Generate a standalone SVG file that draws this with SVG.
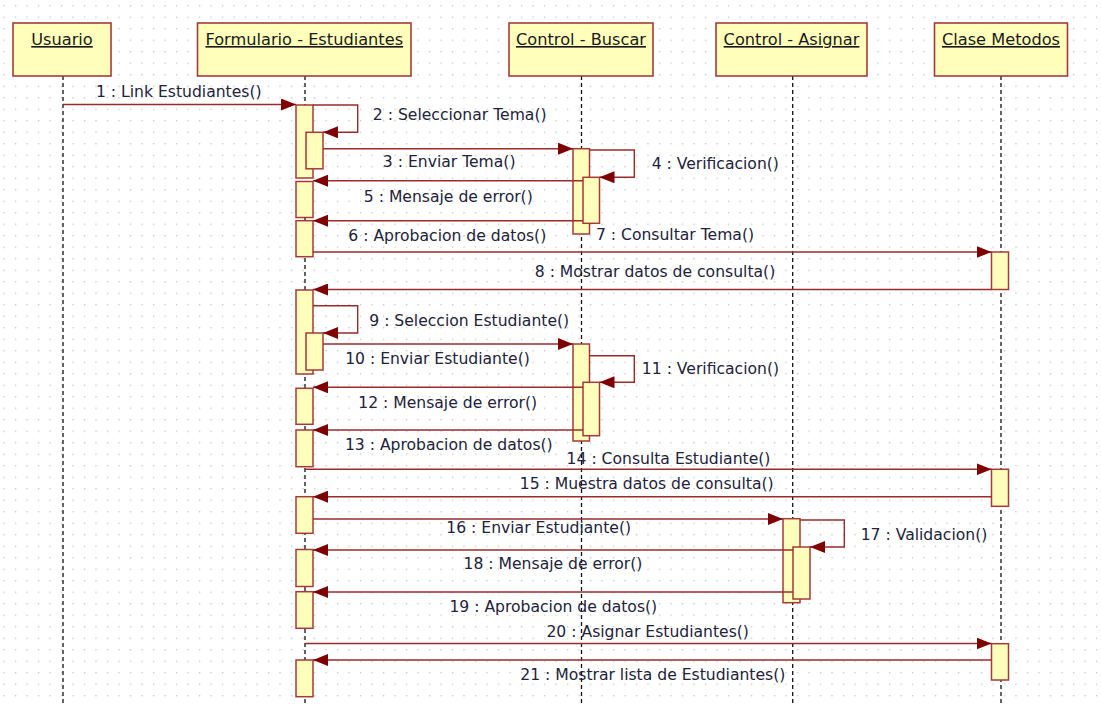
<svg xmlns="http://www.w3.org/2000/svg" width="1101" height="704" viewBox="0 0 1101 704">
  <defs>
    <pattern id="grid" x="3.4" y="5.1" width="11.5" height="11.5" patternUnits="userSpaceOnUse">
      <rect x="0" y="0" width="1.3" height="1.3" fill="#c4c4c4"/>
    </pattern>
    <marker id="arrow" viewBox="0 0 15 12" refX="15" refY="6" markerWidth="15" markerHeight="12" markerUnits="userSpaceOnUse" orient="auto">
      <path d="M0,0 L15,6 L0,12 Z" fill="#7f0000"/>
    </marker>
    <style>
      .head { fill: #ffffbb; stroke: #a53a3a; stroke-width: 1.6; }
      .act { fill: #ffffbb; stroke: #a53a3a; stroke-width: 1.5; }
      .life { stroke: #111; stroke-width: 1.3; stroke-dasharray: 4 3; fill: none; }
      .title { font-family: "DejaVu Sans", sans-serif; font-size: 16.2px; fill: #1a1a1a; text-anchor: middle; text-decoration: underline; }
      .msg { stroke: #9a2b2b; stroke-width: 1.4; fill: none; marker-end: url(#arrow); }
      .lbl { font-family: "DejaVu Sans", sans-serif; font-size: 15.6px; fill: #22223a; text-anchor: middle; }
    </style>
  </defs>

  <rect width="1101" height="704" fill="#ffffff"/>
  <rect width="1101" height="704" fill="url(#grid)"/>

  <!-- Usuario -->
  <g id="usuario">
    <line class="life" x1="63" y1="76" x2="63" y2="704"/>
    <rect class="head" x="13" y="23" width="98" height="53"/>
    <text class="title" x="62" y="45">Usuario</text>
  </g>

  <!-- Formulario - Estudiantes -->
  <g id="formulario">
    <line class="life" x1="305" y1="76" x2="305" y2="704"/>
    <rect class="head" x="197.5" y="23" width="213.5" height="53"/>
    <text class="title" x="304.3" y="45">Formulario - Estudiantes</text>
    <rect class="act" x="296" y="105" width="17" height="73"/>
    <rect class="act" x="306" y="132.3" width="17" height="36.5"/>
    <rect class="act" x="296" y="181.5" width="17" height="36"/>
    <rect class="act" x="296" y="220.7" width="17" height="36"/>
    <rect class="act" x="296" y="290" width="17" height="84"/>
    <rect class="act" x="306" y="333" width="17" height="37"/>
    <rect class="act" x="296" y="388.3" width="17" height="36"/>
    <rect class="act" x="296" y="430" width="17" height="36.7"/>
    <rect class="act" x="296" y="496.7" width="17" height="36.6"/>
    <rect class="act" x="296" y="549.5" width="17" height="37"/>
    <rect class="act" x="296" y="591.7" width="17" height="36.6"/>
    <rect class="act" x="296" y="660" width="17" height="36.7"/>
  </g>

  <!-- Control - Buscar -->
  <g id="control-buscar">
    <line class="life" x1="581.5" y1="76" x2="581.5" y2="704"/>
    <rect class="head" x="509" y="23" width="144" height="53"/>
    <text class="title" x="581" y="45">Control - Buscar</text>
    <rect class="act" x="573" y="148.7" width="16.5" height="85.3"/>
    <rect class="act" x="583" y="177.3" width="16.5" height="46"/>
    <rect class="act" x="573" y="344" width="16.5" height="97"/>
    <rect class="act" x="583" y="382.3" width="16.5" height="53.4"/>
  </g>

  <!-- Control - Asignar -->
  <g id="control-asignar">
    <line class="life" x1="792.7" y1="76" x2="792.7" y2="704"/>
    <rect class="head" x="716" y="23" width="151" height="53"/>
    <text class="title" x="791.5" y="45">Control - Asignar</text>
    <rect class="act" x="783" y="518.7" width="17" height="84"/>
    <rect class="act" x="793" y="547" width="17" height="52"/>
  </g>

  <!-- Clase Metodos -->
  <g id="clase-metodos">
    <line class="life" x1="1001" y1="76" x2="1001" y2="704"/>
    <rect class="head" x="934.5" y="23" width="133" height="53"/>
    <text class="title" x="1001" y="45">Clase Metodos</text>
    <rect class="act" x="991.5" y="252" width="17" height="37.5"/>
    <rect class="act" x="991.5" y="469.3" width="17" height="37"/>
    <rect class="act" x="991.5" y="643.7" width="17" height="36.3"/>
  </g>

  <!-- Messages -->
  <g id="connectors">
    <path class="msg" d="M63,104.5 H296"/>
    <path class="msg" d="M313,105 H357.7 V132.3 H323"/>
    <path class="msg" d="M323,148.7 H573"/>
    <path class="msg" d="M589.5,150 H634.3 V177.3 H599.5"/>
    <path class="msg" d="M583,180.7 H313"/>
    <path class="msg" d="M583,220.7 H313"/>
    <path class="msg" d="M313,252 H991.5"/>
    <path class="msg" d="M991.5,289.5 H313"/>
    <path class="msg" d="M313,305.7 H357.7 V333 H323"/>
    <path class="msg" d="M323,344 H573"/>
    <path class="msg" d="M589.5,355.7 H634.3 V382.3 H599.5"/>
    <path class="msg" d="M583,387.3 H313"/>
    <path class="msg" d="M583,430 H313"/>
    <path class="msg" d="M305,469.3 H991.5"/>
    <path class="msg" d="M991.5,496.7 H313"/>
    <path class="msg" d="M313,519 H783"/>
    <path class="msg" d="M800,520 H844.3 V547 H810"/>
    <path class="msg" d="M793,550 H313"/>
    <path class="msg" d="M793,592 H313"/>
    <path class="msg" d="M305,643.5 H991.5"/>
    <path class="msg" d="M991.5,660 H313"/>
  </g>

  <!-- Message labels -->
  <g id="labels">
    <text class="lbl" x="178.8" y="97">1 : Link Estudiantes()</text>
    <text class="lbl" x="459.7" y="120">2 : Seleccionar Tema()</text>
    <text class="lbl" x="449.2" y="167">3 : Enviar Tema()</text>
    <text class="lbl" x="715.3" y="169">4 : Verificacion()</text>
    <text class="lbl" x="448.3" y="201.5">5 : Mensaje de error()</text>
    <text class="lbl" x="447.3" y="240.5">6 : Aprobacion de datos()</text>
    <text class="lbl" x="675" y="240">7 : Consultar Tema()</text>
    <text class="lbl" x="655" y="277">8 : Mostrar datos de consulta()</text>
    <text class="lbl" x="469.2" y="326">9 : Seleccion Estudiante()</text>
    <text class="lbl" x="437.5" y="364">10 : Enviar Estudiante()</text>
    <text class="lbl" x="710.5" y="374">11 : Verificacion()</text>
    <text class="lbl" x="447.7" y="407.5">12 : Mensaje de error()</text>
    <text class="lbl" x="448.8" y="450">13 : Aprobacion de datos()</text>
    <text class="lbl" x="668.5" y="464">14 : Consulta Estudiante()</text>
    <text class="lbl" x="646.7" y="489.3">15 : Muestra datos de consulta()</text>
    <text class="lbl" x="538.7" y="532.5">16 : Enviar Estudiante()</text>
    <text class="lbl" x="924" y="540">17 : Validacion()</text>
    <text class="lbl" x="553" y="569.3">18 : Mensaje de error()</text>
    <text class="lbl" x="553.3" y="611.5">19 : Aprobacion de datos()</text>
    <text class="lbl" x="647.7" y="636.5">20 : Asignar Estudiantes()</text>
    <text class="lbl" x="652.8" y="679.5">21 : Mostrar lista de Estudiantes()</text>
  </g>
</svg>
